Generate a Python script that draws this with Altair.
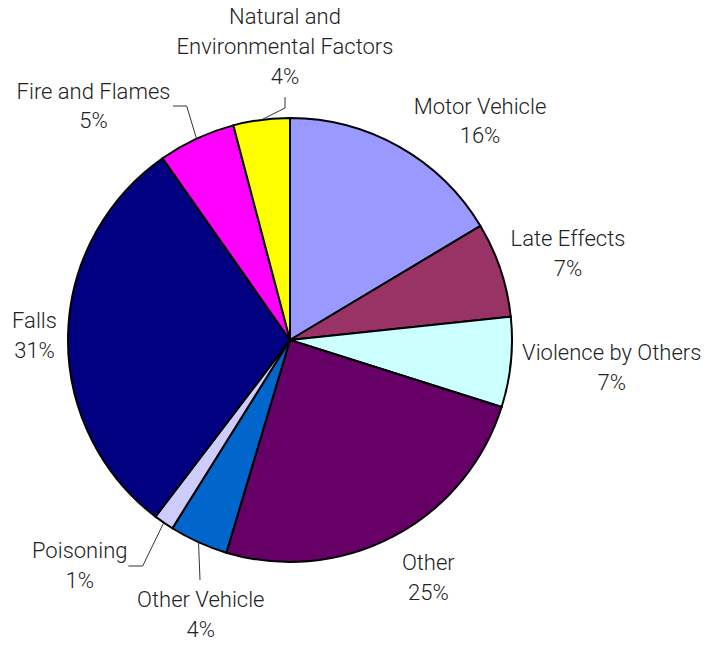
import math
import altair as alt
import pandas as pd

# ---- data ----
categories = ["Motor Vehicle", "Late Effects", "Violence by Others", "Other",
              "Other Vehicle", "Poisoning", "Falls", "Fire and Flames",
              "Natural and Environmental Factors"]
label_text = ["Motor Vehicle", "Late Effects", "Violence by Others", "Other",
              "Other Vehicle", "Poisoning", "Falls", "Fire and Flames",
              "Natural and\nEnvironmental Factors"]
shares = [16.41, 6.92, 6.55, 24.75, 4.26, 1.47, 29.91, 5.62, 4.11]
pct_labels = ["16%", "7%", "7%", "25%", "4%", "1%", "31%", "5%", "4%"]
colors = ["#9999FF", "#993366", "#CCFFFF", "#660066", "#0066CC",
          "#CCCCFF", "#000080", "#FF00FF", "#FFFF00"]

# ---- layout (chart pixel space) ----
W, H = 693, 629
CX, CY, R = 282, 332, 222
label_anchor = {
    "Motor Vehicle": (472, 105.5),
    "Late Effects": (560, 238),
    "Violence by Others": (603.7, 352.3),
    "Other": (420.3, 562.3),
    "Other Vehicle": (192.8, 599),
    "Poisoning": (71.7, 550),
    "Falls": (26.5, 320),
    "Fire and Flames": (85.5, 90.6),
    "Natural and Environmental Factors": (277, 16),
}
leader_elbows = {
    "Natural and Environmental Factors": [(277, 100), (277, 89)],
    "Fire and Flames": [(178.7, 98), (165, 98)],
    "Poisoning": [(134.7, 558), (120.3, 558)],
    "Other Vehicle": [(192, 572)],
}
FONT = "Roboto"
FS = 22
LH = 29.8

pie_df = pd.DataFrame({
    "category": categories,
    "share": shares,
    "idx": list(range(len(categories))),
})

total = sum(shares)
rows = []
for c, t, p in zip(categories, label_text, pct_labels):
    x, y = label_anchor[c]
    rows.append({"category": c, "text": t + "\n" + p, "lx": x, "ly": y})
label_df = pd.DataFrame(rows)

# leader lines start on the pie edge at each slice's mid angle
line_rows = []
cum = 0.0
for c, s in zip(categories, shares):
    mid = (cum + s / 2) / total * 2 * math.pi
    cum += s
    if c in leader_elbows:
        pts = [(CX + R * math.sin(mid), CY - R * math.cos(mid))] + leader_elbows[c]
        for k, (px, py) in enumerate(pts):
            line_rows.append({"category": c, "k": k, "px": px, "py": py})
line_df = pd.DataFrame(line_rows)

pie = alt.Chart(pie_df).mark_arc(
    stroke="black", strokeWidth=2, radius=R
).encode(
    theta=alt.Theta("share:Q", stack=True),
    order=alt.Order("idx:Q"),
    color=alt.Color("category:N", scale=alt.Scale(domain=categories, range=colors), legend=None),
    x=alt.value(CX),
    y=alt.value(CY),
)

leaders = alt.Chart(line_df).mark_line(color="#333333", strokeWidth=1).encode(
    x=alt.X("px:Q", scale=None),
    y=alt.Y("py:Q", scale=None),
    detail="category:N",
    order="k:Q",
)

labels = alt.Chart(label_df).mark_text(
    font=FONT, fontSize=FS, fontWeight=300, color="#222222", align="center",
    baseline="alphabetic", lineBreak="\n", lineHeight=LH
).encode(
    x=alt.X("lx:Q", scale=None),
    y=alt.Y("ly:Q", scale=None),
    text="text:N",
)

chart = alt.layer(pie, leaders, labels).properties(
    width=W, height=H, autosize=alt.AutoSizeParams(type="none"), padding=0
).configure_view(stroke=None)

chart.save("out.html", embed_options={"renderer": "svg", "actions": False})
